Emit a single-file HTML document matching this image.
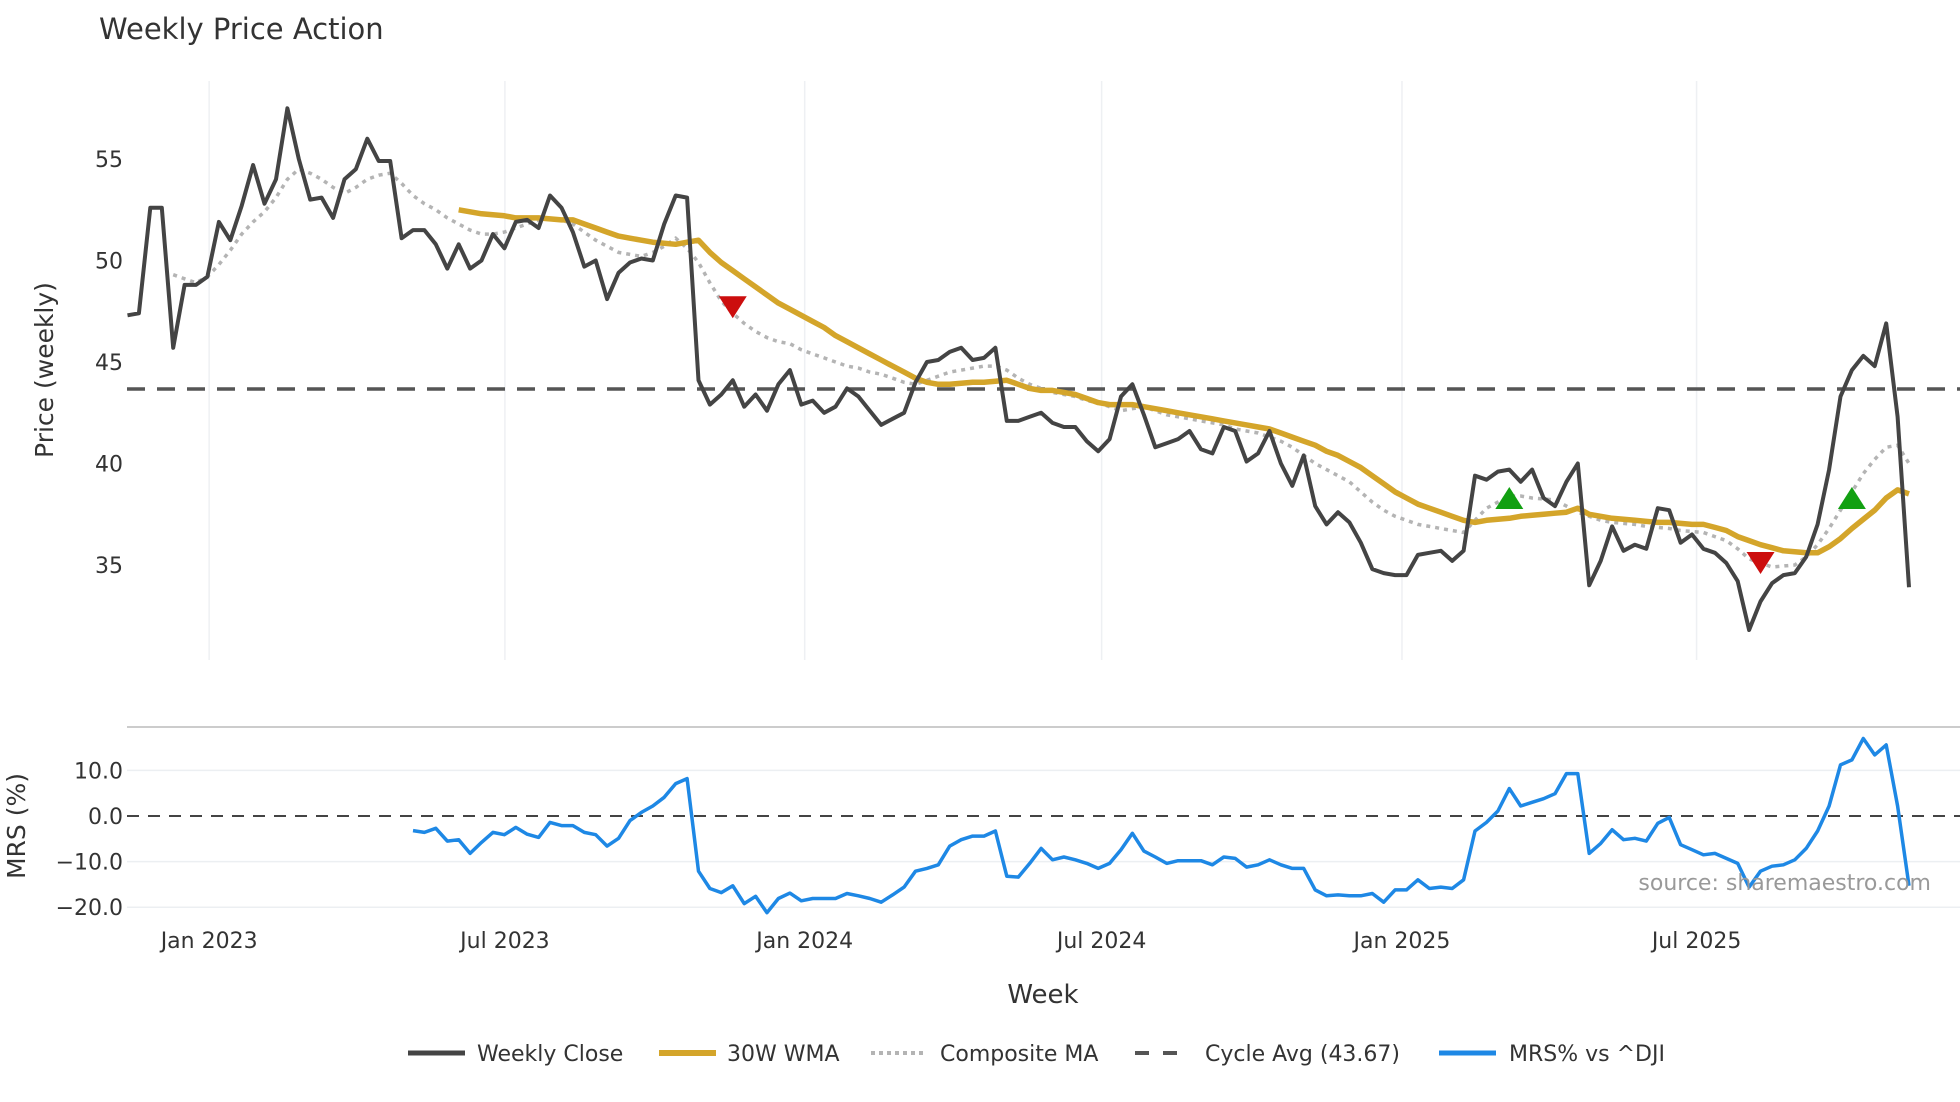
<!DOCTYPE html>
<html><head><meta charset="utf-8"><style>
body{margin:0;background:#fff;}
svg{display:block;font-family:"DejaVu Sans","Liberation Sans",sans-serif;}
</style></head><body>
<svg id="chart" width="1960" height="1102" viewBox="0 0 1960 1102" xmlns="http://www.w3.org/2000/svg">
<text x="99" y="39" font-size="29" fill="#333">Weekly Price Action</text>
<g id="grid"></g>
<g id="series"></g>
<text transform="translate(53,370) rotate(-90)" text-anchor="middle" font-size="25" fill="#333">Price (weekly)</text>
<text transform="translate(25,826) rotate(-90)" text-anchor="middle" font-size="25" fill="#333">MRS (%)</text>
<text x="1043" y="1003" text-anchor="middle" font-size="26" fill="#333">Week</text>
<text x="1931" y="890" text-anchor="end" font-size="22" fill="#999">source: sharemaestro.com</text>
<g>
<g><line x1="408" y1="1053" x2="465" y2="1053" stroke="#444" stroke-width="5"/><text x="477" y="1061" font-size="22" fill="#333">Weekly Close</text></g>
<g><line x1="659" y1="1053" x2="716" y2="1053" stroke="#d4a52a" stroke-width="6"/><text x="727" y="1061" font-size="22" fill="#333">30W WMA</text></g>
<g><line x1="871" y1="1053" x2="927" y2="1053" stroke="#b4b4b4" stroke-width="4" stroke-dasharray="4,4"/><text x="940" y="1061" font-size="22" fill="#333">Composite MA</text></g>
<g><line x1="1135" y1="1053" x2="1190" y2="1053" stroke="#555" stroke-width="4" stroke-dasharray="14,14"/><text x="1205" y="1061" font-size="22" fill="#333">Cycle Avg (43.67)</text></g>
<g><line x1="1439" y1="1053" x2="1496" y2="1053" stroke="#1e88e5" stroke-width="5"/><text x="1509" y="1061" font-size="22" fill="#333">MRS% vs ^DJI</text></g>
</g>
</svg>
<script>
const closes=[47.3,47.4,52.6,52.6,45.7,48.8,48.8,49.2,51.9,51.0,52.7,54.7,52.8,54.0,57.5,55.0,53.0,53.1,52.1,54.0,54.5,56.0,54.9,54.9,51.1,51.5,51.5,50.8,49.6,50.8,49.6,50.0,51.3,50.6,51.9,52.0,51.6,53.2,52.6,51.4,49.7,50.0,48.1,49.4,49.9,50.1,50.0,51.8,53.2,53.1,44.1,42.9,43.4,44.1,42.8,43.4,42.6,43.9,44.6,42.9,43.1,42.5,42.8,43.7,43.3,42.6,41.9,42.2,42.5,44.0,45.0,45.1,45.5,45.7,45.1,45.2,45.7,42.1,42.1,42.3,42.5,42.0,41.8,41.8,41.1,40.6,41.2,43.3,43.9,42.4,40.8,41.0,41.2,41.6,40.7,40.5,41.8,41.6,40.1,40.5,41.6,40.0,38.9,40.4,37.9,37.0,37.6,37.1,36.1,34.8,34.6,34.5,34.5,35.5,35.6,35.7,35.2,35.7,39.4,39.2,39.6,39.7,39.1,39.7,38.3,37.9,39.1,40.0,34.0,35.2,36.9,35.7,36.0,35.8,37.8,37.7,36.1,36.5,35.8,35.6,35.1,34.2,31.8,33.2,34.1,34.5,34.6,35.4,37.0,39.7,43.3,44.6,45.3,44.8,46.9,42.3,33.9];
const wmaStart=29;
const wma=[52.5,52.4,52.3,52.25,52.2,52.1,52.1,52.1,52.05,52.0,52.0,51.8,51.6,51.4,51.2,51.1,51.0,50.9,50.85,50.8,50.9,51.0,50.4,49.9,49.5,49.1,48.7,48.3,47.9,47.6,47.3,47.0,46.7,46.3,46.0,45.7,45.4,45.1,44.8,44.5,44.2,44.0,43.9,43.9,43.95,44.0,44.0,44.05,44.1,43.9,43.7,43.6,43.6,43.5,43.4,43.2,43.0,42.9,42.9,42.9,42.8,42.7,42.6,42.5,42.4,42.3,42.2,42.1,42.0,41.9,41.8,41.7,41.5,41.3,41.1,40.9,40.6,40.4,40.1,39.8,39.4,39.0,38.6,38.3,38.0,37.8,37.6,37.4,37.2,37.1,37.2,37.25,37.3,37.4,37.45,37.5,37.55,37.6,37.8,37.5,37.4,37.3,37.25,37.2,37.15,37.1,37.1,37.05,37.0,37.0,36.85,36.7,36.4,36.2,36.0,35.85,35.7,35.65,35.6,35.6,35.9,36.3,36.8,37.25,37.7,38.3,38.7,38.5];
const compStart=4;
const comp=[49.3,49.1,48.9,49.2,49.8,50.5,51.3,51.9,52.4,53.1,54.0,54.5,54.3,54.0,53.6,53.3,53.6,54.0,54.2,54.3,53.8,53.2,52.8,52.5,52.1,51.8,51.5,51.3,51.3,51.4,51.6,51.8,52.0,52.1,52.0,51.8,51.4,51.0,50.7,50.4,50.3,50.2,50.4,50.7,51.1,50.6,49.9,48.9,48.0,47.4,46.9,46.5,46.2,46.0,45.9,45.6,45.4,45.2,45.0,44.8,44.7,44.5,44.4,44.2,44.0,43.9,44.1,44.3,44.5,44.6,44.7,44.8,44.8,44.6,44.2,43.9,43.7,43.5,43.4,43.3,43.1,43.0,42.8,42.6,42.7,42.8,42.6,42.4,42.3,42.2,42.1,42.0,41.9,41.7,41.6,41.5,41.3,41.1,40.8,40.4,40.0,39.7,39.4,39.1,38.6,38.1,37.7,37.4,37.2,37.0,36.9,36.8,36.7,36.6,37.2,37.8,38.1,38.4,38.4,38.3,38.25,38.2,37.9,37.6,37.4,37.2,37.1,37.05,37.0,36.9,36.85,36.8,36.7,36.65,36.6,36.4,36.2,35.8,35.3,35.1,34.9,34.95,35.0,35.4,36.0,36.8,37.7,38.6,39.5,40.2,40.8,40.9,40.0];
const mrsStart=25;
const mrs=[-3.2,-3.6,-2.7,-5.5,-5.2,-8.2,-5.8,-3.6,-4.1,-2.5,-4.0,-4.7,-1.4,-2.1,-2.1,-3.6,-4.1,-6.6,-4.9,-1.0,0.8,2.2,4.1,7.1,8.2,-12.1,-15.9,-16.8,-15.3,-19.2,-17.6,-21.2,-18.1,-16.9,-18.6,-18.1,-18.1,-18.1,-17.0,-17.5,-18.1,-18.9,-17.3,-15.6,-12.1,-11.5,-10.7,-6.6,-5.2,-4.4,-4.4,-3.3,-13.2,-13.4,-10.4,-7.1,-9.6,-9.0,-9.6,-10.4,-11.5,-10.4,-7.4,-3.8,-7.7,-9.0,-10.4,-9.8,-9.8,-9.8,-10.7,-9.0,-9.3,-11.2,-10.7,-9.6,-10.7,-11.5,-11.5,-16.2,-17.5,-17.3,-17.5,-17.5,-17.0,-18.9,-16.2,-16.2,-14.0,-15.9,-15.6,-15.9,-14.0,-3.3,-1.4,1.1,6.0,2.2,3.0,3.8,4.9,9.3,9.3,-8.2,-6.0,-3.0,-5.2,-4.9,-5.5,-1.6,-0.3,-6.3,-7.4,-8.5,-8.2,-9.3,-10.4,-15.6,-12.1,-11.0,-10.7,-9.6,-7.1,-3.3,2.2,11.2,12.3,17.0,13.4,15.6,2.2,-15.3];
const cycleAvg=43.67;
const sellIdx=[53,143];
const sellVal=[47.7,35.1];
const buyIdx=[121,151];
const buyVal=[38.3,38.3];
const xTickLabels=["Jan 2023","Jul 2023","Jan 2024","Jul 2024","Jan 2025","Jul 2025"];
const xTickIdx=[7.15,33.05,59.3,85.3,111.6,137.4];
const priceTicks=[35,40,45,50,55];
const mrsTicks=[-20,-10,0,10];
const mrsTickLabels=["\u221220.0","\u221210.0","0.0","10.0"];

const NS="http://www.w3.org/2000/svg";
const step=(1909-127.5)/156;
const X=i=>127.5+i*step;
const Y=v=>565-(v-35)*20.3;
const YM=v=>816-v*4.56;
const grid=document.getElementById('grid');
const ser=document.getElementById('series');
function mk(tag,attrs,parent){const e=document.createElementNS(NS,tag);for(const k in attrs)e.setAttribute(k,attrs[k]);parent.appendChild(e);return e;}

xTickIdx.forEach((t,k)=>{
  const l=mk('line',{x1:X(t),x2:X(t),y1:81,y2:660,stroke:'#eef0f3','stroke-width':1.5},grid);
  
  
  const tx=mk('text',{x:X(t),y:948,'text-anchor':'middle','font-size':22,fill:'#333'},grid);
  tx.textContent=xTickLabels[k];
  
  
});
priceTicks.forEach(v=>{
  const tx=mk('text',{x:123,y:Y(v)+8,'text-anchor':'end','font-size':22,fill:'#333'},grid);
  tx.textContent=v;
  
  
});
const div=mk('line',{x1:127,x2:1960,y1:727,y2:727,stroke:'#ccc','stroke-width':2},grid);


mrsTicks.forEach((v,k)=>{
  if(v!==0){const g=mk('line',{x1:127,x2:1960,y1:YM(v),y2:YM(v),stroke:'#eceff2','stroke-width':1.5},grid);
  
  }
  const tx=mk('text',{x:123,y:YM(v)+8,'text-anchor':'end','font-size':22,fill:'#333'},grid);
  tx.textContent=mrsTickLabels[k];
  
  
});
const cyc=mk('line',{x1:127,x2:1960,y1:Y(cycleAvg),y2:Y(cycleAvg),stroke:'#555','stroke-width':3.5,'stroke-dasharray':'18,12'},ser);


const z=mk('line',{x1:127,x2:1960,y1:YM(0),y2:YM(0),stroke:'#444','stroke-width':2,'stroke-dasharray':'12,9'},ser);



function path(arr,start,yf){return arr.map((v,i)=>(i?'L':'M')+X(start+i).toFixed(1)+','+yf(v).toFixed(1)).join('');}
const pc=mk('path',{d:path(comp,compStart,Y),fill:'none',stroke:'#b4b4b4','stroke-width':3.5,'stroke-dasharray':'4,5'},ser);


const pw=mk('path',{d:path(wma,wmaStart,Y),fill:'none',stroke:'#d4a52a','stroke-width':5.5,'stroke-linejoin':'round'},ser);


const pcl=mk('path',{d:path(closes,0,Y),fill:'none',stroke:'#444','stroke-width':4,'stroke-linejoin':'round'},ser);


const pm=mk('path',{d:path(mrs,mrsStart,YM),fill:'none',stroke:'#1e88e5','stroke-width':3.5,'stroke-linejoin':'round'},ser);


sellIdx.forEach((i,k)=>{
  const x=X(i),y=Y(sellVal[k]);
  const t=mk('polygon',{points:`${x-14},${y-11} ${x+14},${y-11} ${x},${y+11}`,fill:'#cc0e0e'},ser);
  
  
});
buyIdx.forEach((i,k)=>{
  const x=X(i),y=Y(buyVal[k]);
  const t=mk('polygon',{points:`${x-14},${y+11} ${x+14},${y+11} ${x},${y-11}`,fill:'#12a012'},ser);
  
  
});
</script>
</body></html>
